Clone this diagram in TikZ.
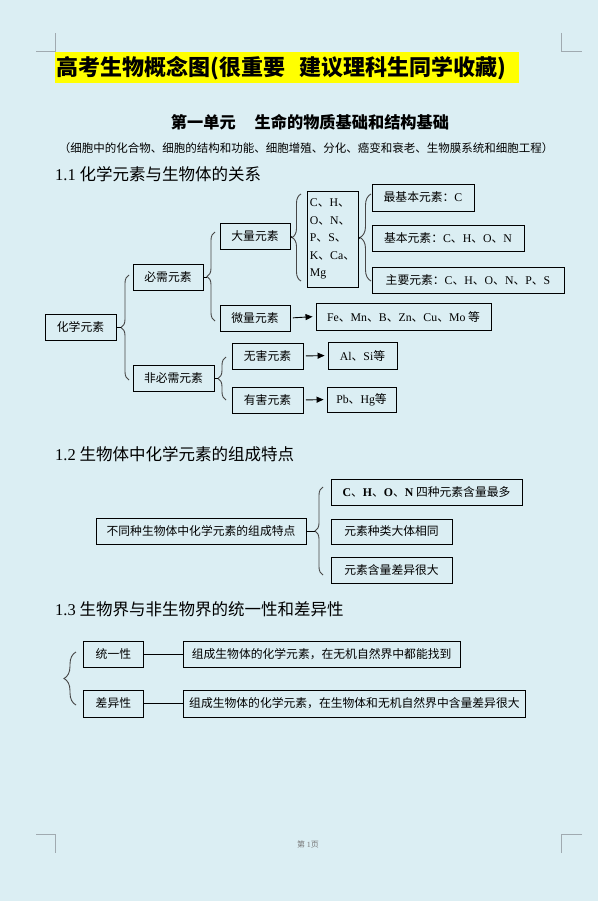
\documentclass[tikz,border=0pt]{standalone}
\usepackage{fontspec}
\setmainfont{Noto Sans CJK SC}
\newfontfamily\tnrfont{Liberation Serif}
\newcommand\Ltn[1]{{\tnrfont #1}}
\usetikzlibrary{decorations.pathreplacing,arrows.meta}
\definecolor{bgblue}{RGB}{219,238,243}
\definecolor{hlyellow}{RGB}{255,255,0}
\definecolor{bracegray}{RGB}{70,70,70}
\definecolor{cornergray}{RGB}{160,170,176}
\definecolor{footgray}{RGB}{120,120,120}
\begin{document}
\begin{tikzpicture}[x=1pt,y=-1pt,
  box/.style={draw=black,line width=0.9pt,inner sep=0pt,font=\fontsize{11.8}{14}\selectfont},
  brc/.style={decorate,draw=bracegray,line width=0.9pt},
  conn/.style={draw=black,line width=0.9pt},
  arr/.style={conn,-{Triangle[length=7pt,width=6pt]},shorten <=2.5pt,shorten >=3pt},
  head/.style={anchor=west,inner sep=0pt,font=\fontsize{16.5}{18}\selectfont},
  cornermark/.style={draw=cornergray,line width=1pt}
]
\useasboundingbox (0,0) rectangle (598,901);
\fill[bgblue] (0,0) rectangle (598,901);

% corner marks
\draw[cornermark] (36,52) -- (55,52) -- (55,33);
\draw[cornermark] (561,33) -- (561,52) -- (582,52);
\draw[cornermark] (36,834) -- (55,834) -- (55,853);
\draw[cornermark] (582,834) -- (561,834) -- (561,853);

% title
\node[fill=hlyellow,anchor=north west,inner xsep=1pt,inner ysep=0pt,minimum height=31pt,text width=462pt,align=left,font=\fontsize{22}{24}\selectfont\bfseries] (title) at (55,52) {高考生物概念图(很重要\ \ 建议理科生同学收藏)};

\node[inner sep=0pt,font=\fontsize{16.2}{18}\selectfont\bfseries] (unit) at (310,122) {第一单元\hspace{19pt}生命的物质基础和结构基础};
\node[inner sep=0pt,font=\fontsize{11.5}{13}\selectfont] (sub) at (306,148) {（细胞中的化合物、细胞的结构和功能、细胞增殖、分化、癌变和衰老、生物膜系统和细胞工程）};

% 1.1
\node[head] (h11) at (55,174) {\Ltn{1.1} 化学元素与生物体的关系};

\node[box,minimum width=71pt,minimum height=26pt] (hx) at (80.5,327) {化学元素};
\node[box,minimum width=70pt,minimum height=26pt] (bx) at (168,277) {必需元素};
\node[box,minimum width=81pt,minimum height=26pt] (fb) at (173.5,378) {非必需元素};
\node[box,minimum width=70pt,minimum height=26pt] (dl) at (255,236) {大量元素};
\node[box,minimum width=70pt,minimum height=26pt] (wl) at (255,318) {微量元素};
\node[box,minimum width=71pt,minimum height=26pt] (wh) at (267.5,356) {无害元素};
\node[box,minimum width=71pt,minimum height=26pt] (yh) at (267.5,400) {有害元素};
\node[box,minimum width=51pt,minimum height=96pt,align=left,font=\fontsize{11.8}{17.5}\selectfont] (el) at (332.5,239) {\Ltn{C}、\Ltn{H}、\\\Ltn{O}、\Ltn{N}、\\\Ltn{P}、\Ltn{S}、\\\Ltn{K}、\Ltn{Ca}、\\\Ltn{Mg}};
\node[box,minimum width=102pt,minimum height=27pt] (zj) at (423,197.5) {最基本元素：\Ltn{C}};
\node[box,minimum width=152pt,minimum height=26pt] (jb) at (448,238) {基本元素：\Ltn{C}、\Ltn{H}、\Ltn{O}、\Ltn{N}};
\node[box,minimum width=192pt,minimum height=26pt] (zy) at (468,280) {主要元素：\Ltn{C}、\Ltn{H}、\Ltn{O}、\Ltn{N}、\Ltn{P}、\Ltn{S}};
\node[box,minimum width=175pt,minimum height=27pt] (fe) at (403.5,316.5) {\Ltn{Fe}、\Ltn{Mn}、\Ltn{B}、\Ltn{Zn}、\Ltn{Cu}、\Ltn{Mo} 等};
\node[box,minimum width=69pt,minimum height=27pt] (al) at (362.5,355.5) {\Ltn{Al}、\Ltn{Si}等};
\node[box,minimum width=69pt,minimum height=25pt] (pb) at (361.5,399.5) {\Ltn{Pb}、\Ltn{Hg}等};

% braces 1.1
\coordinate (tip1) at (121,327);
\draw[brc,decoration={brace,amplitude=8pt}] (129,380) -- (129,275);
\draw[conn] (hx.east) -- (tip1);
\coordinate (tip2) at (207,277);
\draw[brc,decoration={brace,amplitude=8pt}] (215,321) -- (215,232);
\draw[conn] (bx.east) -- (tip2);
\coordinate (tip3) at (218,378);
\draw[brc,decoration={brace,amplitude=8pt}] (226,400) -- (226,357);
\draw[conn] (fb.east) -- (tip3);
\coordinate (tip4) at (292,237.5);
\draw[brc,decoration={brace,amplitude=9pt}] (301,281) -- (301,194);
\draw[conn] (dl.east) -- (tip4);
\coordinate (tip5) at (360,237.5);
\draw[brc,decoration={brace,amplitude=11pt}] (371,281) -- (371,194);
\draw[conn] (el.east) -- (tip5);

\draw[arr] (wl.east) -- (fe.west);
\draw[arr] (wh.east) -- (al.west);
\draw[arr] (yh.east) -- (pb.west);

% 1.2
\node[head] (h12) at (55,454) {\Ltn{1.2} 生物体中化学元素的组成特点};
\node[box,minimum width=210pt,minimum height=26pt] (bt) at (201,531) {不同种生物体中化学元素的组成特点};
\node[box,minimum width=191pt,minimum height=26pt] (c1) at (426.5,492) {\Ltn{\bfseries C}、\Ltn{\bfseries H}、\Ltn{\bfseries O}、\Ltn{\bfseries N} 四种元素含量最多};
\node[box,minimum width=121pt,minimum height=25pt] (c2) at (391.5,531.5) {元素种类大体相同};
\node[box,minimum width=121pt,minimum height=26pt] (c3) at (391.5,570) {元素含量差异很大};
\coordinate (tip6) at (315,531);
\draw[brc,decoration={brace,amplitude=8pt}] (323,575) -- (323,487);
\draw[conn] (bt.east) -- (tip6);

% 1.3
\node[head] (h13) at (55,609) {\Ltn{1.3} 生物界与非生物界的统一性和差异性};
\draw[brc,decoration={brace,amplitude=12pt}] (76,705) -- (76,652);
\node[box,minimum width=60pt,minimum height=26pt] (ty) at (113.4,654) {统一性};
\node[box,minimum width=60pt,minimum height=27pt] (cy) at (113.4,703.5) {差异性};
\node[box,minimum width=277pt,minimum height=26pt] (d1) at (321.6,654) {组成生物体的化学元素，在无机自然界中都能找到};
\node[box,minimum width=342pt,minimum height=27pt] (d2) at (354.4,703.5) {组成生物体的化学元素，在生物体和无机自然界中含量差异很大};
\draw[conn] (ty.east) -- (d1.west);
\draw[conn] (cy.east) -- (d2.west);

% footer
\node[inner sep=0pt,text=footgray,font=\fontsize{8}{9}\selectfont] (foot) at (308,844) {第 \Ltn{1}页};
\end{tikzpicture}
\end{document}
